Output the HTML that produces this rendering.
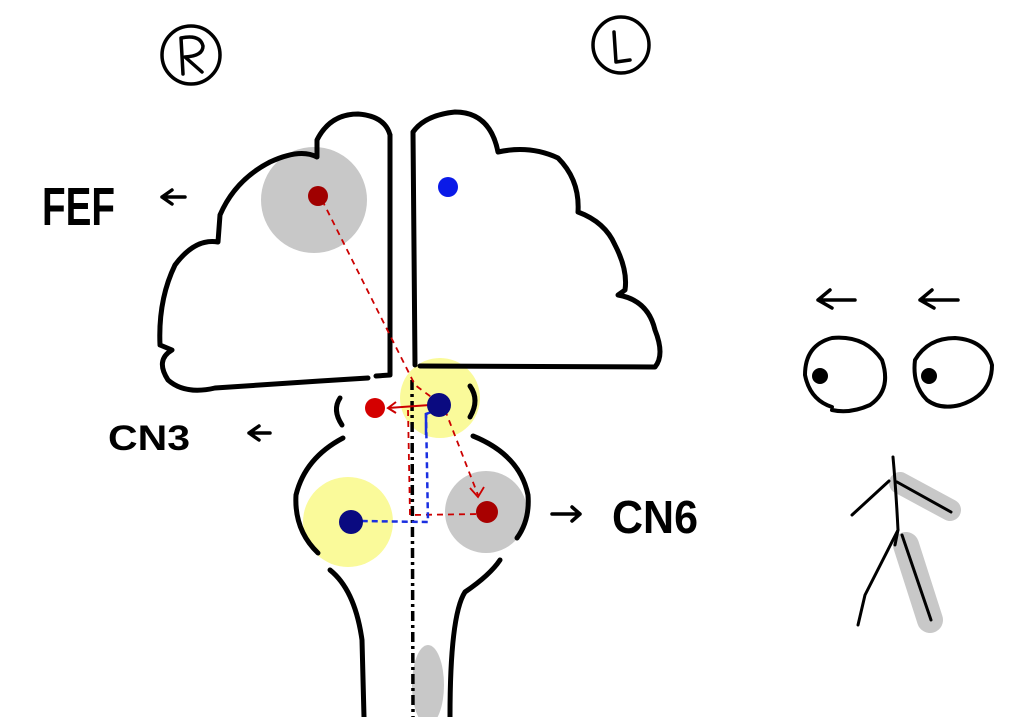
<!DOCTYPE html>
<html><head><meta charset="utf-8"><style>
html,body{margin:0;padding:0;background:#fff;width:1023px;height:717px;overflow:hidden}
svg{display:block}
text{font-family:"Liberation Sans",sans-serif;fill:#000}
</style></head><body>
<svg width="1023" height="717" viewBox="0 0 1023 717" xmlns="http://www.w3.org/2000/svg">
<g fill="none" stroke="#000" stroke-width="4" stroke-linecap="round" stroke-linejoin="round">
<circle cx="191" cy="55" r="29" stroke-width="3.5"/>
<circle cx="621" cy="45" r="28" stroke-width="3.5"/>
<path d="M183,74 L181,38 Q200,34 203,46 Q203,56 185,57 L202,72" stroke-width="3.5"/>
<path d="M614,32 L616,62 L630,60" stroke-width="3.5"/>
</g>

<circle cx="314" cy="200" r="53" fill="#c8c8c8"/>
<circle cx="440" cy="398" r="40" fill="#fafa9a"/>
<circle cx="348" cy="522" r="45" fill="#fafa9a"/>
<circle cx="486" cy="512" r="41" fill="#c8c8c8"/>
<ellipse cx="428" cy="685" rx="16" ry="40" fill="#c8c8c8"/>
<line x1="900" y1="483" x2="950" y2="510" stroke="#c8c8c8" stroke-width="22" stroke-linecap="round"/>
<line x1="906" y1="545" x2="930" y2="620" stroke="#c8c8c8" stroke-width="26" stroke-linecap="round"/>

<g fill="none" stroke="#000" stroke-width="5" stroke-linecap="round" stroke-linejoin="round">
<path d="M390,135 Q385,116 358,114 Q330,114 317,140 L317,157 Q300,148 270,162 Q235,180 220,215 L218,242 Q195,238 175,265 Q158,300 160,345 L172,350 Q155,360 168,380 Q185,395 215,388 L320,381 L368,378"/>
<path d="M376,376 L390,375 L390,135"/>
<path d="M415,365 L413,132 Q425,115 455,112 Q490,112 498,152 Q530,145 558,158 Q580,180 578,212 Q605,222 615,245 Q628,270 625,290 L618,295 Q648,300 655,330 Q665,355 655,367 L420,366"/>
<path d="M340,398 Q332,410 342,425"/>
<path d="M470,386 Q480,400 470,417"/>
<path d="M343,438 Q305,458 296,495 Q294,530 318,553"/>
<path d="M473,436 Q520,455 528,495 Q530,520 517,538"/>
<path d="M330,570 Q355,590 362,640 L364,717"/>
<path d="M500,560 Q490,575 465,592 Q450,615 450,717"/>
<path d="M832,407 Q810,400 805,375 Q805,345 832,338 Q865,335 882,360 Q892,390 870,405 Q850,414 832,410" stroke-width="4"/>
<path d="M927,400 Q912,385 915,360 Q928,338 955,338 Q985,340 992,365 Q992,395 960,405 Q940,410 927,400" stroke-width="4"/>
<path d="M818,300 L855,300 M830,290 L818,300 L832,308" stroke-width="3.5"/>
<path d="M920,300 L958,300 M932,290 L920,300 L934,308" stroke-width="3.5"/>
<g stroke-width="3">
<path d="M893,457 Q896,490 898,530 L895,545"/>
<path d="M889,481 L852,515"/>
<path d="M897,482 L951,512"/>
<path d="M898,530 L865,595 L858,625"/>
<path d="M902,535 L931,620"/>
</g>
<path d="M162,197 L185,197 M172,190 L162,197 L172,204" stroke-width="3.5"/>
<path d="M249,433 L270,433 M259,426 L249,433 L259,440" stroke-width="3.5"/>
<path d="M552,514 L580,514 M572,507 L580,514 L572,521" stroke-width="3.5"/>
</g>
<line x1="412" y1="380" x2="413" y2="717" stroke="#000" stroke-width="3.5" stroke-dasharray="10,4,3,4"/>

<text x="42" y="225" font-size="54" font-weight="bold" textLength="73" lengthAdjust="spacingAndGlyphs">FEF</text>
<text x="108" y="450" font-size="35" font-weight="bold" textLength="82" lengthAdjust="spacingAndGlyphs">CN3</text>
<text x="612" y="533" font-size="46" font-weight="bold" textLength="86" lengthAdjust="spacingAndGlyphs">CN6</text>

<g fill="none" stroke-width="1.8" stroke-dasharray="6,5">
<path d="M322,200 L415,385 L438,402" stroke="#c00"/>
<path d="M445,410 L478,495" stroke="#c00"/>
<path d="M408,410 L410,515 L482,514" stroke="#c00"/>
</g>
<path d="M470,488 L478,497 L484,487" fill="none" stroke="#c00" stroke-width="1.8"/>
<path d="M430,405 L388,408 M396,402 L388,408 L396,413" fill="none" stroke="#c00" stroke-width="2"/>
<g fill="none" stroke="#1a2fe0" stroke-width="2.5" stroke-dasharray="6,4">
<path d="M437,410 L426,414 L428,522 L360,521"/>
</g>
<path d="M437,410 L426,414 L426,435" fill="none" stroke="#1a2fe0" stroke-width="2.5"/>

<circle cx="318" cy="196" r="10" fill="#a00000"/>
<circle cx="448" cy="187" r="10" fill="#0a1ae8"/>
<circle cx="375" cy="408" r="10" fill="#d40000"/>
<circle cx="439" cy="405" r="12" fill="#0a0a80"/>
<circle cx="351" cy="522" r="12" fill="#0a0a80"/>
<circle cx="487" cy="512" r="11" fill="#a80000"/>
<circle cx="820" cy="376" r="8" fill="#000"/>
<circle cx="929" cy="376" r="8" fill="#000"/>
</svg>
</body></html>
